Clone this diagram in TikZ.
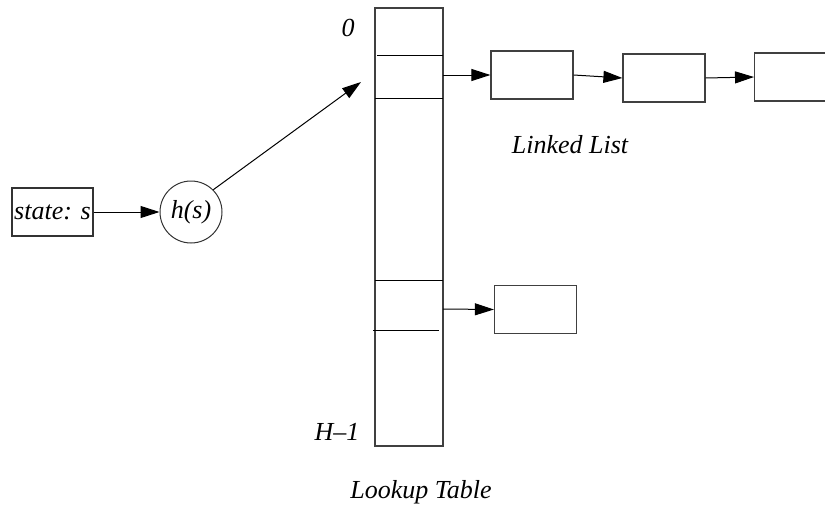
\documentclass[tikz,border=0pt]{standalone}
\usepackage{fontspec}
\setmainfont{Liberation Serif}
\usetikzlibrary{arrows.meta}
\begin{document}
\begin{tikzpicture}[x=1pt,y=-1pt,
  lbl/.style={font=\fontsize{26}{30}\selectfont\itshape, inner sep=0pt},
  cell/.style={draw=black!75, line width=1.2pt, minimum width=82pt, minimum height=48pt, inner sep=0pt},
  link/.style={line width=1pt, -{Triangle[length=19pt,width=12pt]}}]
\useasboundingbox (0,0) rectangle (825,506);
% lookup table column
\draw[draw=black!75, line width=1.2pt] (375,8) rectangle (443,446);
\draw[line width=0.9pt] (377,55) -- (443,55);
\draw[line width=0.9pt] (375,98) -- (443,98);
\draw[line width=0.9pt] (375,280) -- (443,280);
\draw[line width=0.9pt] (373,330) -- (439,330);
\coordinate (slot1) at (443,75);
\coordinate (slot2) at (443,309);
\coordinate (slot1in) at (361,82);
% linked list cells
\node[cell] (c1) at (532,75) {};
\node[cell] (c2) at (664,78) {};
\node[cell, anchor=west] (c3) at (754,77) {};
\node[cell] (c4) at (535.5,309.5) {};
\draw[link] (slot1) -- (c1.west);
\draw[link] (c1.east) -- (c2.west);
\draw[link] (c2.east) -- (c3.west);
\draw[link] (slot2) -- (c4.west);
% hashing the state
\node[lbl, draw=black!80, line width=1.2pt, minimum width=81pt, minimum height=48pt] (st) at (52.5,212) {state: s};
\node[lbl, draw=black!80, line width=1pt, circle, minimum size=62pt] (h) at (191,212) {h(s)};
\draw[link] (st.east) -- (h.west);
\draw[link] (h.north east) -- (slot1in);
% labels
\node[lbl] at (348,28) {0};
\node[lbl] at (337,432) {H–1};
\node[lbl] at (570,145) {Linked List};
\node[lbl] at (421,492) {Lookup Table};
\end{tikzpicture}
\end{document}
